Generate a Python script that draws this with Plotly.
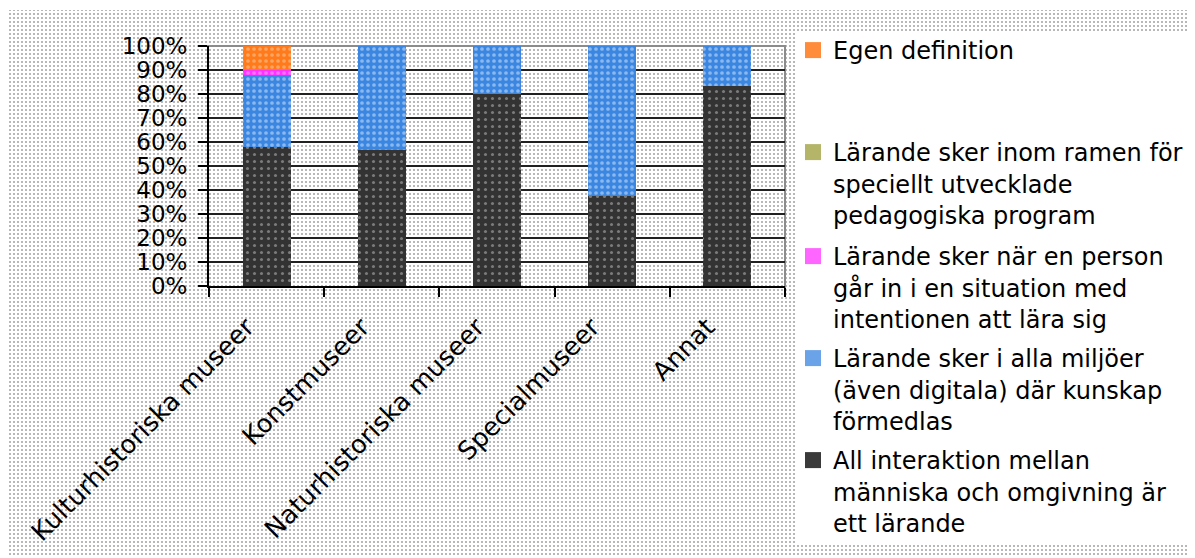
import base64
import plotly.graph_objects as go

categories = ["Kulturhistoriska museer", "Konstmuseer", "Naturhistoriska museer", "Specialmuseer", "Annat"]

series_names = [
    "All interaktion mellan<br>människa och omgivning är<br>ett lärande",
    "Lärande sker i alla miljöer<br>(även digitala) där kunskap<br>förmedlas",
    "Lärande sker när en person<br>går in i en situation med<br>intentionen att lära sig",
    "Lärande sker inom ramen för<br>speciellt utvecklade<br>pedagogiska program",
    "Egen definition",
]
all_interaktion = [57.9, 56.7, 80.0, 37.5, 83.3]
alla_miljoer = [30.0, 43.3, 20.0, 62.5, 16.7]
intentionen = [2.1, 0, 0, 0, 0]
pedagogiska = [0, 0, 0, 0, 0]
egen = [10.0, 0, 0, 0, 0]
series_values = [all_interaktion, alla_miljoer, intentionen, pedagogiska, egen]

y_ticks = [0, 10, 20, 30, 40, 50, 60, 70, 80, 90, 100]

# styles
bg_colors = ["#333333", "#3a86e0", "#ff33ff", "#a5a552", "#ff7a1a"]
fg_colors = ["#c4c4c4", "#dbe9fb", "#ffb0ff", "#e0e0b0", "#ffd0aa"]
pat_sizes = [7, 6, 6, 6, 6]
pat_solid = [0.15, 0.3, 0.3, 0.3, 0.3]
legend_colors = ["#3a3a3a", "#6aa3e8", "#ff66ff", "#b5b56a", "#ff8c3a"]
legend_ids = ["legend5", "legend4", "legend3", "legend2", "legend"]

# figure is placed 8px in from the page corner (body margin)
OFF = 8
W, H = 1195 - OFF, 558 - OFF
ML, MR, MT, MB = 201, 410, 38, 272
PW, PH = W - ML - MR, H - MT - MB
FONT = "DejaVu Sans"


def px_x(px):
    return (px - ML) / PW


def px_y(py):
    return (H - MB - py) / PH


fig = go.Figure()
for name, vals, bg, fg, ps, so in zip(series_names, series_values, bg_colors, fg_colors, pat_sizes, pat_solid):
    fig.add_trace(go.Bar(
        x=categories, y=vals, name=name, showlegend=False,
        marker=dict(color=bg, line=dict(width=0),
                    pattern=dict(shape=".", fgcolor=fg, bgcolor=bg, size=ps, solidity=so)),
    ))

for name, col, lid in zip(series_names, legend_colors, legend_ids):
    fig.add_trace(go.Scatter(
        x=[None], y=[None], mode="markers", name=name, legend=lid,
        marker=dict(symbol="square", size=16, color=col),
    ))

svg = (
    f"<svg xmlns='http://www.w3.org/2000/svg' width='{W}' height='{H}' viewBox='0 0 {W} {H}' shape-rendering='crispEdges'>"
    "<defs><pattern id='d' width='4' height='4' patternUnits='userSpaceOnUse'>"
    "<rect x='1' y='1' width='2' height='2' fill='#b8b8b8'/></pattern></defs>"
    f"<rect x='1' y='2' width='{W-1}' height='546' fill='url(#d)'/>"
    "</svg>"
)
src = "data:image/svg+xml;base64," + base64.b64encode(svg.encode()).decode()
fig.add_layout_image(dict(
    source=src, xref="paper", yref="paper", x=px_x(0), y=px_y(0),
    sizex=W / PW, sizey=H / PH, xanchor="left", yanchor="top",
    sizing="stretch", layer="below",
))

fig.add_shape(type="rect", xref="paper", yref="paper",
              x0=px_x(789), x1=px_x(W), y0=px_y(535), y1=px_y(25),
              fillcolor="white", line=dict(width=0), layer="below")
fig.add_shape(type="path", xref="paper", yref="paper",
              path=f"M {px_x(192)},1 L 1,1 L 1,{px_y(287)}",
              line=dict(color="#8c8c8c", width=2), layer="between")

legend_tops = [20, 122, 226, 328, 430]
lay_legends = {}
for lid, top in zip(["legend", "legend2", "legend3", "legend4", "legend5"], legend_tops):
    lay_legends[lid] = dict(
        x=px_x(785), y=px_y(top), xanchor="left", yanchor="top",
        bgcolor="rgba(0,0,0,0)", borderwidth=0, valign="top",
        font=dict(family=FONT, size=24, color="black"),
    )

fig.update_layout(
    width=W, height=H,
    margin=dict(l=ML, r=MR, t=MT, b=MB, autoexpand=False),
    paper_bgcolor="white", plot_bgcolor="rgba(0,0,0,0)",
    barmode="stack", bargap=0.583,
    font=dict(family=FONT, size=24, color="black"),
    **lay_legends,
)
fig.update_xaxes(
    showline=True, linecolor="black", linewidth=2,
    ticks="outside", tickson="boundaries", ticklen=9, tickcolor="black", tickwidth=1.5,
    tickangle=-45, tickfont=dict(family=FONT, size=25.5, color="black"),
    ticklabelstandoff=14, ticklabelshift=-20,
    showgrid=False,
)
fig.update_yaxes(
    range=[0, 100], tickvals=y_ticks, ticktext=[f"{v}%" for v in y_ticks],
    showline=True, linecolor="black", linewidth=2,
    ticks="outside", ticklen=9, tickcolor="black", tickwidth=1.5,
    showgrid=True, gridcolor="#222222", gridwidth=1.5, zeroline=False,
    tickfont=dict(family=FONT, size=23, color="black"), ticklabelstandoff=6,
)

fig.write_html("out.html")
